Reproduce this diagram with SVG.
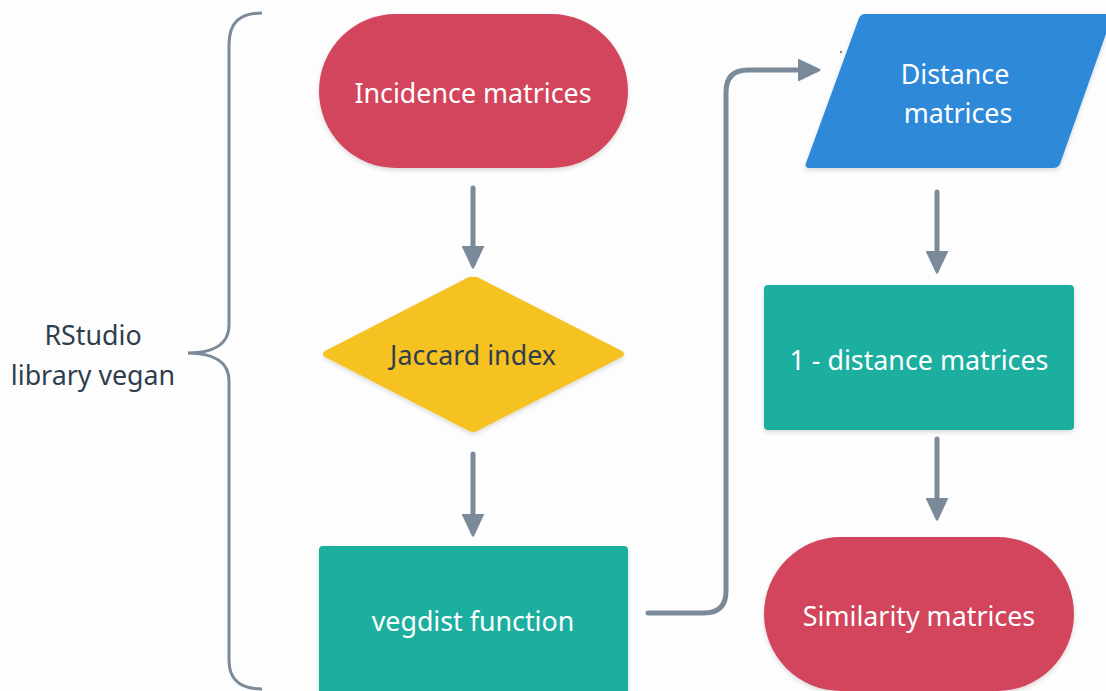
<svg xmlns="http://www.w3.org/2000/svg" width="1106" height="691" viewBox="0 0 1106 691">
<style>
.lbl{font-family:"Noto Sans","Liberation Sans",sans-serif;font-size:26.8px;text-anchor:middle;dominant-baseline:central}
.w{fill:#ffffff}
.d{fill:#2f3e4e}
.con{fill:none;stroke:#7a8a99;stroke-width:5;stroke-linecap:round;stroke-linejoin:round}
</style>
<defs>
<marker id="ah" viewBox="0 0 10 10" refX="8" refY="5" markerWidth="4.6" markerHeight="4.6" orient="auto" markerUnits="strokeWidth">
<path d="M0,0.5 L9.5,5 L0,9.5 Z" fill="#7a8a99" stroke="#7a8a99" stroke-width="1" stroke-linejoin="round"/>
</marker>
<filter id="sh" x="-10%" y="-10%" width="120%" height="130%">
<feDropShadow dx="0" dy="2" stdDeviation="2" flood-color="#000" flood-opacity="0.15"/>
</filter>
</defs>
<rect width="1106" height="691" fill="#fdfdfd"/>
<g id="brace">
<path d="M262,13 C240,13 229,22 229,45 L229,325 C229,345 212,353 188,353 C212,353 229,361 229,381 L229,660 C229,680 240,689 262,689" fill="none" stroke="#7a8a99" stroke-width="3"/>
<text class="lbl d" x="93" y="334">RStudio</text>
<text class="lbl d" x="93" y="374">library vegan</text>
</g>
<g id="connectors">
<path class="con" d="M473,188 L473,264" marker-end="url(#ah)"/>
<path class="con" d="M473,454 L473,532" marker-end="url(#ah)"/>
<path class="con" d="M648,613 L704,613 Q726,613 726,591 L726,92 Q726,70 748,70 L816,70" marker-end="url(#ah)"/>
<path class="con" d="M937,192 L937,269" marker-end="url(#ah)"/>
<path class="con" d="M937,439 L937,516" marker-end="url(#ah)"/>
<circle cx="841" cy="52" r="1.2" fill="#7a8a99"/>
</g>
<g id="incidence">
<rect x="319" y="14" width="309" height="154" rx="77" fill="#d2455b" filter="url(#sh)"/>
<text class="lbl w" x="473" y="92">Incidence matrices</text>
</g>
<g id="jaccard">
<path d="M473,277 Q476,276 479,278 L622,351 Q626,354 622,357 L479,430 Q476,432 473,432 Q470,432 467,430 L325,357 Q321,354 325,351 L467,278 Q470,276 473,277 Z" fill="#f6c224" filter="url(#sh)"/>
<text class="lbl d" x="473" y="354">Jaccard index</text>
</g>
<g id="vegdist">
<rect x="319" y="546" width="309" height="160" rx="4" fill="#1aae9f" filter="url(#sh)"/>
<text class="lbl w" x="473" y="620">vegdist function</text>
</g>
<g id="distance">
<path d="M865,14 L1113,14 L1060,164 Q1058,168 1053,168 L810,168 Q804,168 806,163 L859,18 Q861,14 865,14 Z" fill="#2d89d9" filter="url(#sh)"/>
<text class="lbl w" x="955" y="73">Distance</text>
<text class="lbl w" x="958" y="112">matrices</text>
</g>
<g id="one-minus">
<rect x="764" y="285" width="310" height="145" rx="4" fill="#1aae9f" filter="url(#sh)"/>
<text class="lbl w" x="919" y="359">1 - distance matrices</text>
</g>
<g id="similarity">
<rect x="764" y="537" width="310" height="154" rx="77" fill="#d2455b" filter="url(#sh)"/>
<text class="lbl w" x="919" y="615">Similarity matrices</text>
</g>
</svg>
